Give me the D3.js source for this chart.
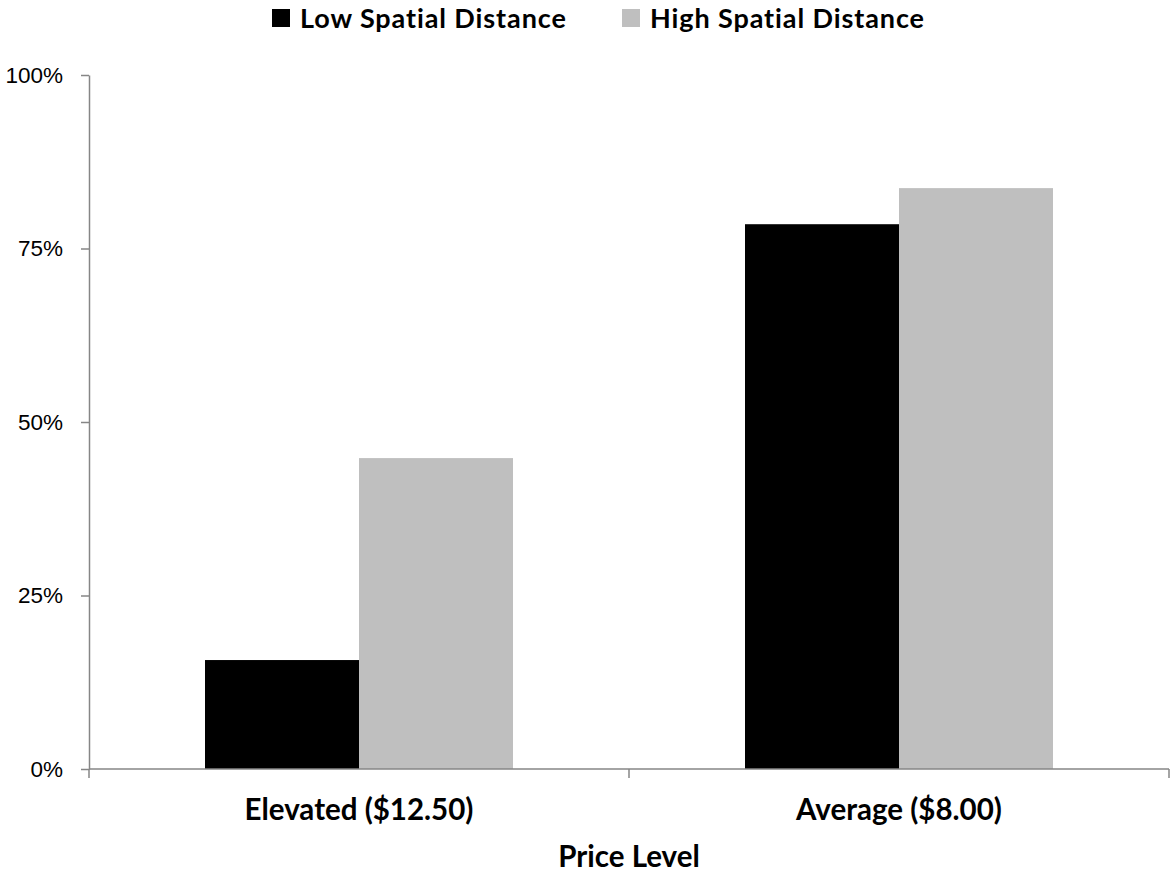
<!DOCTYPE html>
<html>
<head>
<meta charset="utf-8">
<script src="https://cdn.jsdelivr.net/npm/d3@7"></script>
<style>
  html, body { margin: 0; padding: 0; background: #fff; }
  svg { display: block; font-family: Lato, "Open Sans", sans-serif; }
</style>
</head>
<body>
<svg id="chart" width="1174" height="872"></svg>
<script>
// Price level categories and the share for each spatial distance condition
const categories = ["Elevated ($12.50)", "Average ($8.00)"];
const seriesNames = ["Low Spatial Distance", "High Spatial Distance"];
const lowSpatial = [0.157, 0.785];
const highSpatial = [0.448, 0.837];
const seriesColors = ["#000000", "#bfbfbf"];
const yTicks = [0, 0.25, 0.5, 0.75, 1];
const xTitle = "Price Level";

const svg = d3.select("#chart");
const margin = { left: 89, right: 5, top: 75, bottom: 103 };
const W = 1174, H = 872;

const x = d3.scaleBand().domain(categories).range([margin.left, W - margin.right]);
const groupPad = 116;
const xs = d3.scaleBand().domain(seriesNames).range([groupPad, x.bandwidth() - groupPad]);
const y = d3.scaleLinear().domain([0, 1]).range([H - margin.bottom, margin.top]);

const rows = categories.map((c, i) => ({ cat: c, vals: [lowSpatial[i], highSpatial[i]] }));

// bars
const g = svg.append("g");
rows.forEach(r => {
  r.vals.forEach((v, j) => {
    g.append("rect")
      .attr("x", x(r.cat) + xs(seriesNames[j]))
      .attr("y", y(v))
      .attr("width", xs.bandwidth())
      .attr("height", y(0) - y(v))
      .attr("fill", seriesColors[j]);
  });
});

const axisColor = "#868686";

// y axis
const yAxis = svg.append("g")
  .attr("transform", `translate(${margin.left},0)`)
  .call(d3.axisLeft(y).tickValues(yTicks).tickFormat(d3.format(".0%")).tickSizeInner(8).tickSizeOuter(0).tickPadding(18));
yAxis.select(".domain").attr("stroke", axisColor).attr("stroke-width", 1.5);
yAxis.selectAll(".tick line").attr("stroke", axisColor).attr("stroke-width", 1.5);
yAxis.selectAll(".tick text").attr("fill", "#000").style("font-size", "22.5px");

// x axis with ticks at category boundaries
const xAxisG = svg.append("g").attr("transform", `translate(0,${y(0)})`);
xAxisG.append("line")
  .attr("x1", margin.left).attr("x2", W - margin.right)
  .attr("stroke", axisColor).attr("stroke-width", 1.5);
const bounds = [x.range()[0]].concat(categories.map(c => x(c) + x.bandwidth()));
xAxisG.selectAll("line.tk").data(bounds).enter().append("line")
  .attr("class", "tk")
  .attr("x1", d => d).attr("x2", d => d)
  .attr("y1", 0).attr("y2", 9)
  .attr("stroke", axisColor).attr("stroke-width", 1.5);
xAxisG.selectAll("text.cat").data(categories).enter().append("text")
  .attr("class", "cat")
  .attr("x", d => x(d) + x.bandwidth() / 2)
  .attr("y", 51)
  .attr("text-anchor", "middle")
  .style("font-size", "29.5px").style("font-weight", "bold")
  .text(d => d);

// axis title
svg.append("text")
  .attr("x", x.range()[0] + (x.range()[1] - x.range()[0]) / 2)
  .attr("y", 867)
  .attr("text-anchor", "middle")
  .style("font-size", "29.5px").style("font-weight", "bold")
  .text(xTitle);

// legend
const legendX = [272, 622];
const leg = svg.append("g");
seriesNames.forEach((s, i) => {
  leg.append("rect").attr("x", legendX[i]).attr("y", 9).attr("width", 18).attr("height", 18).attr("fill", seriesColors[i]);
  leg.append("text").attr("x", legendX[i] + 28).attr("y", 28)
    .style("font-size", "27px").style("font-weight", "bold")
    .style("letter-spacing", "0.9px").text(s);
});
</script>
</body>
</html>
